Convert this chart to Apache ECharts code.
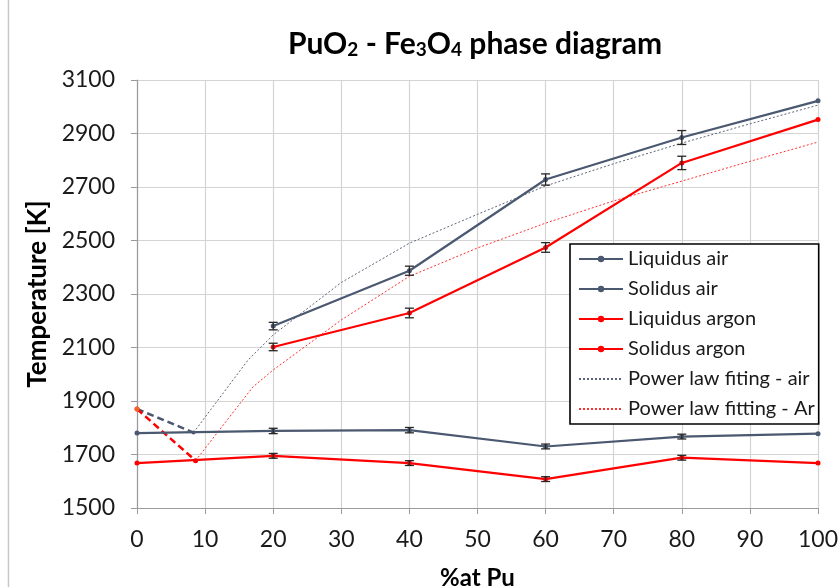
<!DOCTYPE html>
<html>
<head>
<meta charset="utf-8">
<script src="https://cdn.jsdelivr.net/npm/echarts@6/dist/echarts.min.js"></script>
<style>
html,body{margin:0;padding:0;background:#fff;}
#chart{width:839px;height:587px;}
</style>
</head>
<body>
<div id="chart"></div>
<script>
// ---- data ----
const xTicks = [0, 10, 20, 30, 40, 50, 60, 70, 80, 90, 100];
const yTicks = [1500, 1700, 1900, 2100, 2300, 2500, 2700, 2900, 3100];

const xLiq = [20, 40, 60, 80, 100];
const xSol = [0, 20, 40, 60, 80, 100];

const liqAir = [2180, 2387, 2728, 2885, 3022];
const liqAirErr = [14, 17, 21, 26, 0];
const solAir = [1780, 1788, 1791, 1730, 1767, 1778];
const solAirErr = [0, 10, 10, 9, 9, 0];

const liqAr = [2102, 2229, 2474, 2790, 2952];
const liqArErr = [14, 18, 18, 25, 0];
const solAr = [1668, 1695, 1668, 1608, 1688, 1668];
const solArErr = [0, 9, 9, 9, 9, 0];

const fitAirX = [8.3, 16.3, 20, 30, 40, 50, 60, 70, 80, 90, 100];
const fitAirY = [1782, 2053, 2147, 2343, 2490, 2598, 2704, 2787, 2864, 2936, 3006];
const fitArX = [8.6, 17, 20, 30, 40, 50, 60, 70, 80, 90, 100];
const fitArY = [1677, 1952, 2016, 2203, 2366, 2472, 2565, 2648, 2722, 2796, 2868];

const startX = [0, 8.3];
const dashAirY = [1870, 1782];
const startArX = [0, 8.6];
const dashArY = [1870, 1677];

// ---- build ----
const zip = (xs, ys) => xs.map((x, i) => [x, ys[i]]);
const zipErr = (xs, ys, es) => xs.map((x, i) => [x, ys[i], es[i]]).filter(d => d[2] > 0);

const DARK = '#4a5870';
const RED = '#ff0000';
const FONT = 'Lato';

function errRender(params, api) {
  const x = api.value(0), y = api.value(1), e = api.value(2);
  const t = api.coord([x, y + e]), b = api.coord([x, y - e]);
  const w = 4.5;
  const st = { stroke: '#262626', lineWidth: 1.3 };
  return {
    type: 'group',
    children: [
      { type: 'line', shape: { x1: t[0], y1: t[1], x2: b[0], y2: b[1] }, style: st },
      { type: 'line', shape: { x1: t[0] - w, y1: t[1], x2: t[0] + w, y2: t[1] }, style: st },
      { type: 'line', shape: { x1: b[0] - w, y1: b[1], x2: b[0] + w, y2: b[1] }, style: st }
    ]
  };
}

const chart = echarts.init(document.getElementById('chart'), null, { renderer: 'canvas' });

const option = {
  backgroundColor: '#fff',
  animation: false,
  textStyle: { fontFamily: FONT },
  title: {
    left: 470,
    textAlign: 'center',
    top: 20,
    text: '{a|PuO}{s|2}{a| - Fe}{s|3}{a|O}{s|4}{a| phase diagram}',
    textStyle: {
      rich: {
        a: { fontFamily: FONT, fontWeight: 'bold', fontSize: 30, color: '#000', verticalAlign: 'bottom', lineHeight: 34 },
        s: { fontFamily: FONT, fontWeight: 'bold', fontSize: 19, color: '#000', verticalAlign: 'bottom', lineHeight: 29 }
      }
    }
  },
  graphic: [
    { type: 'line', shape: { x1: 8.5, y1: 0, x2: 8.5, y2: 587 }, style: { stroke: '#c8c8c8', lineWidth: 1.5 } }
  ],
  grid: { left: 137, right: 21, top: 80, bottom: 79, containLabel: false, outerBoundsMode: 'none' },
  xAxis: {
    type: 'value',
    min: 0, max: 100, interval: 10,
    name: '%at Pu',
    nameLocation: 'middle',
    nameGap: 58,
    nameTextStyle: { fontFamily: FONT, fontWeight: 'bold', fontSize: 24, color: '#000' },
    axisLine: { show: true, lineStyle: { color: '#9a9a9a', width: 1.2 } },
    axisTick: { show: true, length: 6, lineStyle: { color: '#9a9a9a' }, customValues: xTicks },
    axisLabel: { fontSize: 23, color: '#1a1a1a', margin: 20, customValues: xTicks, formatter: v => String(v) },
    splitLine: { show: true, lineStyle: { color: '#d4d4d4', width: 1.2 } }
  },
  yAxis: {
    type: 'value',
    min: 1500, max: 3100, interval: 50,
    name: 'Temperature [K]',
    nameLocation: 'middle',
    nameGap: 82,
    nameTextStyle: { fontFamily: FONT, fontWeight: 'bold', fontSize: 26, color: '#000' },
    axisLine: { show: true, lineStyle: { color: '#9a9a9a', width: 1.2 } },
    axisTick: { show: true, length: 6, lineStyle: { color: '#9a9a9a' }, customValues: yTicks },
    axisLabel: { fontSize: 23, color: '#1a1a1a', margin: 22, customValues: yTicks, formatter: v => String(v) },
    splitLine: { show: true, lineStyle: { color: '#d4d4d4', width: 1.2 } }
  },
  legend: {
    orient: 'vertical',
    left: 570, top: 244,
    padding: [5, 4, 5, 8],
    itemGap: 10,
    itemWidth: 44,
    itemHeight: 8,
    backgroundColor: '#fff',
    borderColor: '#000',
    borderWidth: 1.6,
    borderRadius: 0,
    textStyle: { fontFamily: FONT, fontSize: 20, color: '#1a1a1a', lineHeight: 20 },
    data: [
      'Liquidus air', 'Solidus air', 'Liquidus argon', 'Solidus argon',
      { name: 'Power law fiting - air', itemStyle: { opacity: 0 } },
      { name: 'Power law fitting - Ar', itemStyle: { opacity: 0 } }
    ]
  },
  series: [
    {
      name: 'Power law fiting - air', type: 'line', data: zip(fitAirX, fitAirY),
      symbol: 'none', lineStyle: { color: '#5c6578', width: 1, type: [2, 2] }, itemStyle: { color: '#5c6578' }, z: 2
    },
    {
      name: 'Power law fitting - Ar', type: 'line', data: zip(fitArX, fitArY),
      symbol: 'none', lineStyle: { color: '#ff3030', width: 1, type: [2, 2] }, itemStyle: { color: '#ff3030' }, z: 2
    },
    {
      name: 'dashAir', type: 'line', data: zip(startX, dashAirY),
      symbol: 'circle', symbolSize: 4, lineStyle: { color: DARK, width: 2.5, type: [7, 4] }, itemStyle: { color: DARK }, z: 3
    },
    {
      name: 'dashAr', type: 'line', data: zip(startArX, dashArY),
      symbol: 'circle', symbolSize: 5, lineStyle: { color: RED, width: 2.5, type: [7, 4] }, itemStyle: { color: RED }, z: 3
    },
    {
      name: 'origin', type: 'scatter', data: [[startX[0], dashAirY[0]]],
      symbol: 'circle', symbolSize: 5, itemStyle: { color: '#f07a30' }, z: 4
    },
    {
      name: 'Liquidus air', type: 'line', data: zip(xLiq, liqAir),
      symbol: 'circle', symbolSize: 5, lineStyle: { color: DARK, width: 2.2 }, itemStyle: { color: DARK }, z: 5
    },
    {
      name: 'Solidus air', type: 'line', data: zip(xSol, solAir),
      symbol: 'circle', symbolSize: 5, lineStyle: { color: DARK, width: 2.2 }, itemStyle: { color: DARK }, z: 5
    },
    {
      name: 'Liquidus argon', type: 'line', data: zip(xLiq, liqAr),
      symbol: 'circle', symbolSize: 5, lineStyle: { color: RED, width: 2.2 }, itemStyle: { color: RED }, z: 5
    },
    {
      name: 'Solidus argon', type: 'line', data: zip(xSol, solAr),
      symbol: 'circle', symbolSize: 5, lineStyle: { color: RED, width: 2.2 }, itemStyle: { color: RED }, z: 5
    },
    { name: 'errLiqAir', type: 'custom', renderItem: errRender, data: zipErr(xLiq, liqAir, liqAirErr), encode: { x: 0, y: 1 }, z: 6 },
    { name: 'errSolAir', type: 'custom', renderItem: errRender, data: zipErr(xSol, solAir, solAirErr), encode: { x: 0, y: 1 }, z: 6 },
    { name: 'errLiqAr', type: 'custom', renderItem: errRender, data: zipErr(xLiq, liqAr, liqArErr), encode: { x: 0, y: 1 }, z: 6 },
    { name: 'errSolAr', type: 'custom', renderItem: errRender, data: zipErr(xSol, solAr, solArErr), encode: { x: 0, y: 1 }, z: 6 }
  ]
};
chart.setOption(option);
</script>
</body>
</html>
